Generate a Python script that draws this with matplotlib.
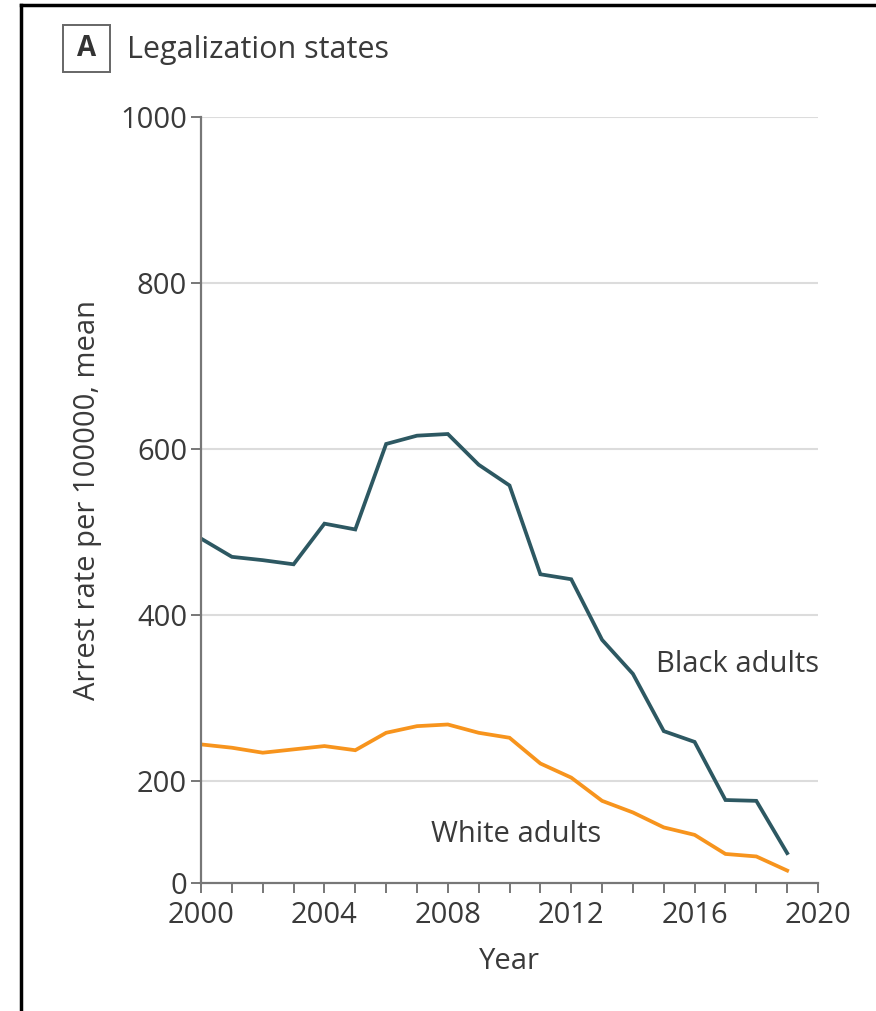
import matplotlib.pyplot as plt
from matplotlib import font_manager
from matplotlib.lines import Line2D
from matplotlib.patches import Rectangle

# data
years = list(range(2000, 2020))
black_adults = [492, 470, 466, 461, 510, 503, 606, 616, 618, 581,
                556, 449, 443, 370, 329, 260, 247, 177, 176, 113]
white_adults = [244, 240, 234, 238, 242, 237, 258, 266, 268, 258,
                252, 221, 204, 176, 162, 144, 135, 112, 109, 92]
y_ticks = [77, 200, 400, 600, 800, 1000]   # bottom of axis is labelled 0
y_tick_labels = ["0", "200", "400", "600", "800", "1000"]
x_major = [2000, 2004, 2008, 2012, 2016, 2020]

names = {f.name for f in font_manager.fontManager.ttflist}
fam = ["Open Sans", "DejaVu Sans"]
fam = [f for f in fam if f in names] + ["DejaVu Sans"]
plt.rcParams['font.family'] = fam

txt = "#3a3a3a"
teal = "#2d5862"
orange = "#f7941d"
fs = 21

fig = plt.figure(figsize=(8.76, 10.11), dpi=100)
ax = fig.add_axes([0.2295, 0.1266, 0.7043, 0.7577])

ax.plot(years, black_adults, color=teal, lw=2.7, solid_joinstyle='miter')
ax.plot(years, white_adults, color=orange, lw=2.7, solid_joinstyle='miter')

ax.set_xlim(2000, 2020)
ax.set_ylim(y_ticks[0], 1000)
ax.set_yticks(y_ticks)
ax.set_yticklabels(y_tick_labels)
ax.set_xticks(x_major)
ax.set_xticks(range(2000, 2021), minor=True)

for v in y_ticks[1:]:
    ax.axhline(v, color="#dcdcdc", lw=1.5, zorder=0)

for s in ["top", "right"]:
    ax.spines[s].set_visible(False)
for s in ["left", "bottom"]:
    ax.spines[s].set_color("#777777")
    ax.spines[s].set_linewidth(1.6)

ax.tick_params(axis='y', direction='out', length=7, width=1.4, color="#777777",
               labelsize=fs, labelcolor=txt, pad=3)
ax.tick_params(axis='x', which='both', direction='out', length=7, width=1.4,
               color="#777777", labelsize=fs, labelcolor=txt, pad=6)

ax.set_ylabel("Arrest rate per 100000, mean", fontsize=fs, color=txt, labelpad=13)
ax.set_xlabel("Year", fontsize=fs, color=txt, labelpad=12)

ax.text(2014.75, 340, "Black adults", fontsize=fs, color=txt, va='center', ha='left')
ax.text(2007.45, 135, "White adults", fontsize=fs, color=txt, va='center', ha='left')

# panel label and title
fig.patches.append(Rectangle((63 / 876, 1 - 72 / 1011), 47 / 876, 47 / 1011,
                             transform=fig.transFigure, fill=False,
                             edgecolor="#666666", lw=1.4))
fig.text(86.5 / 876, 1 - 49 / 1011, "A", fontsize=20, fontweight='bold',
         color="#333333", ha='center', va='center')
fig.text(127 / 876, 1 - 50 / 1011, "Legalization states", fontsize=22,
         color=txt, ha='left', va='center')

# outer frame (top and left edges)
fig.lines.append(Line2D([21 / 876, 1], [1 - 5 / 1011, 1 - 5 / 1011],
                        transform=fig.transFigure, color="black", lw=2.5))
fig.lines.append(Line2D([21 / 876, 21 / 876], [0, 1 - 5 / 1011],
                        transform=fig.transFigure, color="black", lw=2.5))

fig.savefig("out.png", dpi=100)
